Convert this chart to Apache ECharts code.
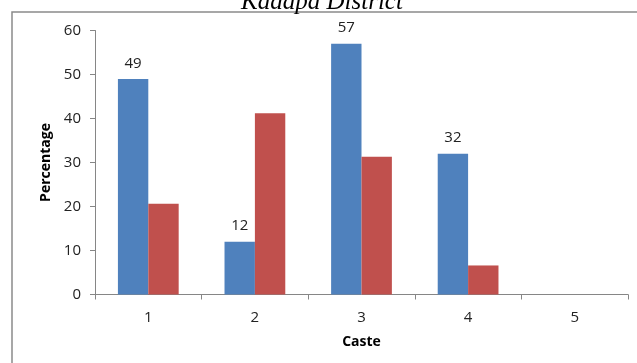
<!DOCTYPE html>
<html>
<head>
<meta charset="utf-8">
<script src="https://cdn.jsdelivr.net/npm/echarts@6/dist/echarts.min.js"></script>
<style>
  html, body { margin: 0; padding: 0; background: #fff; }
  #chart { width: 637px; height: 363px; }
</style>
</head>
<body>
<div id="chart"></div>
<script>
// Caste categories along the x axis
const castes = ['1', '2', '3', '4', '5'];
// First series (labelled values)
const seriesA = [49, 12, 57, 32, null];
// Second series
const seriesB = [20.6, 41.2, 31.3, 6.6, null];
// Y axis range
const yMin = 0, yMax = 60, yStep = 10;

const textFont = '"Open Sans", "Noto Sans", sans-serif';
const axisGray = '#868686';

const chart = echarts.init(document.getElementById('chart'), null, { renderer: 'canvas' });

chart.setOption({
  animation: false,
  backgroundColor: '#ffffff',
  graphic: [
    {
      type: 'rect',
      shape: { x: 12, y: 12, width: 700, height: 400 },
      style: { fill: 'none', stroke: '#8a8a8a', lineWidth: 1.5 },
      z: 0
    },
    {
      type: 'text',
      x: 322,
      y: 15,
      style: {
        text: 'Kadapa District',
        font: 'italic 25px "Liberation Serif", "DejaVu Serif", serif',
        fill: '#000',
        align: 'center',
        verticalAlign: 'bottom'
      },
      z: 10
    }
  ],
  grid: { left: 95, right: 9, top: 30.5, bottom: 68.5, containLabel: false },
  xAxis: {
    type: 'category',
    data: castes,
    name: 'Caste',
    nameLocation: 'middle',
    nameGap: 41,
    nameTextStyle: { fontFamily: textFont, fontSize: 14, fontWeight: 'bold', color: '#000' },
    axisLine: { lineStyle: { color: axisGray, width: 1 } },
    axisTick: { show: true, length: 5, lineStyle: { color: axisGray } },
    axisLabel: { fontFamily: textFont, fontSize: 15, color: '#222', margin: 16 }
  },
  yAxis: {
    type: 'value',
    min: yMin,
    max: yMax,
    interval: yStep,
    name: 'Percentage',
    nameLocation: 'middle',
    nameGap: 42,
    nameRotate: 90,
    nameTextStyle: { fontFamily: textFont, fontSize: 14, fontWeight: 'bold', color: '#000' },
    axisLine: { show: true, lineStyle: { color: axisGray, width: 1 } },
    axisTick: { show: true, length: 5, lineStyle: { color: axisGray } },
    axisLabel: { fontFamily: textFont, fontSize: 15, color: '#222', margin: 14 },
    splitLine: { show: false }
  },
  series: [
    {
      type: 'bar',
      data: seriesA,
      barGap: '0%',
      barCategoryGap: '43%',
      itemStyle: { color: '#4F81BD' },
      label: {
        show: true,
        position: 'top',
        distance: 8,
        fontFamily: textFont,
        fontSize: 15,
        color: '#222'
      }
    },
    {
      type: 'bar',
      data: seriesB,
      barGap: '0%',
      barCategoryGap: '43%',
      itemStyle: { color: '#C0504D' }
    }
  ]
});
</script>
</body>
</html>
